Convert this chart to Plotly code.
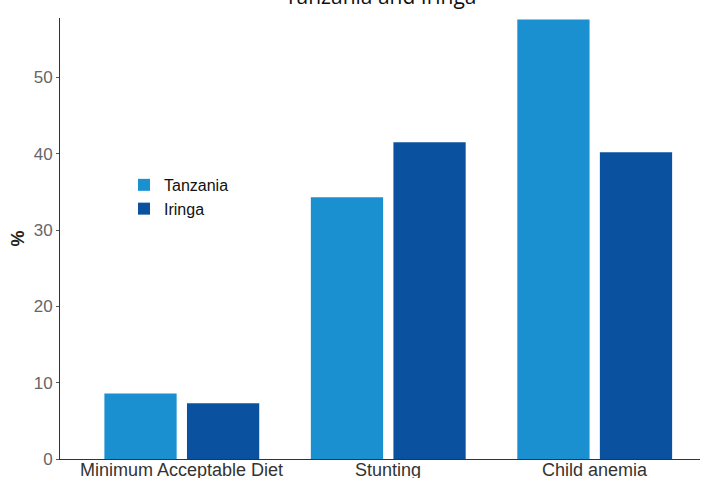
import plotly.graph_objects as go

categories = ["Minimum Acceptable Diet", "Stunting", "Child anemia"]
tanzania = [8.6, 34.3, 57.6]
iringa = [7.3, 41.5, 40.2]
series_names = ["Tanzania", "Iringa"]
title_text = "Tanzania and Iringa"

fig = go.Figure()
fig.add_trace(go.Bar(name=series_names[0], x=categories, y=tanzania, marker_color="#1a90d0", marker_line_width=0))
fig.add_trace(go.Bar(name=series_names[1], x=categories, y=iringa, marker_color="#0a52a0", marker_line_width=0))

annotations = [dict(text=title_text, xref="paper", yref="paper", x=0.5, y=1.0136,
                    xanchor="center", yanchor="bottom", showarrow=False,
                    font=dict(family="Open Sans, sans-serif", size=21, color="#111"))]
for c in categories:
    annotations.append(dict(text=c, x=c, y=0, xref="x", yref="y", xanchor="center", yanchor="top",
                            showarrow=False, yshift=1,
                            font=dict(family="Liberation Sans, Arial, sans-serif", size=18, color="#333")))

fig.update_layout(
    width=712, height=478,
    margin=dict(l=60, r=12, t=18, b=19),
    paper_bgcolor="white", plot_bgcolor="white",
    barmode="group", bargap=0.2, bargroupgap=0.125,
    hovermode=False,
    font=dict(family="Liberation Sans, Arial, sans-serif", size=17, color="#222"),
    legend=dict(x=0.10, y=0.66, xanchor="left", yanchor="top",
                font=dict(size=16, color="#111"), bgcolor="rgba(0,0,0,0)",
                itemwidth=30, tracegroupgap=0),
    showlegend=True,
    annotations=annotations,
)
fig.update_xaxes(range=[-0.59, 2.51], showline=True, linecolor="#333", linewidth=1,
                 ticks="", showticklabels=False, showgrid=False, automargin=False)
fig.update_yaxes(range=[0, 57.8], showline=True, linecolor="#333", linewidth=1,
                 ticks="outside", ticklen=3, tickcolor="#555", tickvals=[0, 10, 20, 30, 40, 50],
                 tickfont=dict(size=17, color="#666"), showgrid=False, zeroline=False, automargin=False,
                 title=dict(text="<b>%</b>", font=dict(size=18, color="#222"), standoff=4))

fig.write_html("out.html", config={"displayModeBar": False, "staticPlot": True},
               post_script="document.body.style.margin='0px';")
